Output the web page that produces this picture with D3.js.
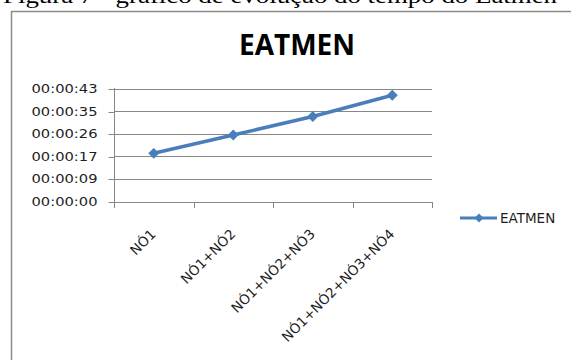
<!DOCTYPE html>
<html>
<head>
<meta charset="utf-8">
<script src="https://cdn.jsdelivr.net/npm/d3@7"></script>
<style>
  html, body { margin: 0; padding: 0; background: #fff; overflow: hidden; }
  svg { display: block; }
</style>
</head>
<body>
<svg id="chart" width="571" height="360"></svg>
<script>
// Execution time (seconds) for each node combination
const categories = ["NÓ1", "NÓ1+NÓ2", "NÓ1+NÓ2+NÓ3", "NÓ1+NÓ2+NÓ3+NÓ4"];
const seriesName = "EATMEN";
const seconds = [18.4, 25.4, 32.5, 40.6];
// Axis ticks: steps of 0.0001 day (8.64 s), shown as hh:mm:ss
const tickValues = [0, 8.64, 17.28, 25.92, 34.56, 43.2];
const tickLabels = ["00:00:00", "00:00:09", "00:00:17", "00:00:26", "00:00:35", "00:00:43"];
const caption = "Figura 7 - gráfico de evolução do tempo do Eatmen";

const svg = d3.select("#chart");
const lineColor = "#4a7ebb";
const gridColor = "#878787";
const labelFont = "'DejaVu Sans', Verdana, sans-serif";

// caption above the frame
svg.append("text")
  .attr("x", 3).attr("y", 3)
  .attr("font-family", "'Liberation Serif', 'Times New Roman', serif")
  .attr("font-size", 21)
  .attr("textLength", 554)
  .attr("lengthAdjust", "spacingAndGlyphs")
  .attr("fill", "#000")
  .text(caption);

// chart frame
svg.append("rect")
  .attr("x", 11.5).attr("y", 11.5)
  .attr("width", 700).attr("height", 500)
  .attr("fill", "#fff")
  .attr("stroke", "#8a8a8a").attr("stroke-width", 1.5);

// title
svg.append("text")
  .attr("x", 297).attr("y", 55)
  .attr("text-anchor", "middle")
  .attr("font-family", "'Open Sans', sans-serif")
  .attr("font-weight", "bold")
  .attr("font-size", 28)
  .attr("fill", "#000")
  .text(seriesName);

const x = d3.scaleBand().domain(categories).range([114, 432]);
const y = d3.scaleLinear().domain([0, 43.2]).range([201.5, 88.5]);

// horizontal gridlines
svg.append("g")
  .selectAll("line")
  .data(tickValues.slice(1))
  .join("line")
  .attr("x1", 114).attr("x2", 432)
  .attr("y1", d => Math.round(y(d)) + 0.5)
  .attr("y2", d => Math.round(y(d)) + 0.5)
  .attr("stroke", gridColor).attr("stroke-width", 1);

// y axis
const yAxis = d3.axisLeft(y)
  .tickValues(tickValues)
  .tickSize(6)
  .tickPadding(11)
  .tickFormat((d, i) => tickLabels[i]);
const gy = svg.append("g").attr("transform", "translate(114.5,0)").call(yAxis);
gy.select(".domain").remove();
gy.selectAll(".tick line").attr("stroke", gridColor)
  .attr("transform", function () {
    const t = d3.select(this.parentNode).attr("transform");
    const ty = +t.match(/,([\d.]+)/)[1];
    return `translate(0,${Math.round(ty) + 0.5 - ty})`;
  });
gy.selectAll(".tick text")
  .attr("font-family", labelFont)
  .attr("font-size", 12.4)
  .attr("fill", "#1e1e1e")
  .attr("textLength", 66)
  .attr("lengthAdjust", "spacingAndGlyphs");
gy.append("line")
  .attr("x1", 0).attr("x2", 0)
  .attr("y1", 88).attr("y2", 207)
  .attr("stroke", gridColor);

// x axis: baseline plus ticks at category boundaries
const gx = svg.append("g");
gx.append("line")
  .attr("x1", 114).attr("x2", 432.5)
  .attr("y1", 202.5).attr("y2", 202.5)
  .attr("stroke", gridColor);
const bounds = categories.map(c => x(c)).concat([x.range()[1]]);
gx.selectAll("line.tick")
  .data(bounds)
  .join("line")
  .attr("class", "tick")
  .attr("x1", d => Math.round(d) + 0.5).attr("x2", d => Math.round(d) + 0.5)
  .attr("y1", 202).attr("y2", 208)
  .attr("stroke", gridColor);
gx.selectAll("text")
  .data(categories)
  .join("text")
  .attr("transform", d => `translate(${x(d) + x.bandwidth() / 2 + 3},${235}) rotate(-45)`)
  .attr("text-anchor", "end")
  .attr("font-family", labelFont)
  .attr("font-size", 13.6)
  .attr("fill", "#1e1e1e")
  .text(d => d);

// series line
const pts = categories.map((c, i) => [x(c) + x.bandwidth() / 2, y(seconds[i])]);
svg.append("path")
  .attr("d", d3.line()(pts))
  .attr("fill", "none")
  .attr("stroke", lineColor)
  .attr("stroke-width", 3.6)
  .attr("stroke-linejoin", "round");

// diamond markers
svg.append("g")
  .selectAll("path")
  .data(pts)
  .join("path")
  .attr("transform", d => `translate(${d[0]},${d[1]}) rotate(45)`)
  .attr("d", d3.symbol().type(d3.symbolSquare).size(60))
  .attr("fill", lineColor);

// legend
const lg = svg.append("g").attr("transform", "translate(460,218)");
lg.append("line")
  .attr("x1", 0).attr("x2", 37)
  .attr("y1", 0).attr("y2", 0)
  .attr("stroke", lineColor).attr("stroke-width", 3);
lg.append("path")
  .attr("transform", "translate(19,0) rotate(45)")
  .attr("d", d3.symbol().type(d3.symbolSquare).size(40))
  .attr("fill", lineColor);
lg.append("text")
  .attr("x", 40).attr("y", 0)
  .attr("dy", "0.36em")
  .attr("font-family", labelFont)
  .attr("font-size", 13.5)
  .attr("fill", "#1e1e1e")
  .text(seriesName);
</script>
</body>
</html>
